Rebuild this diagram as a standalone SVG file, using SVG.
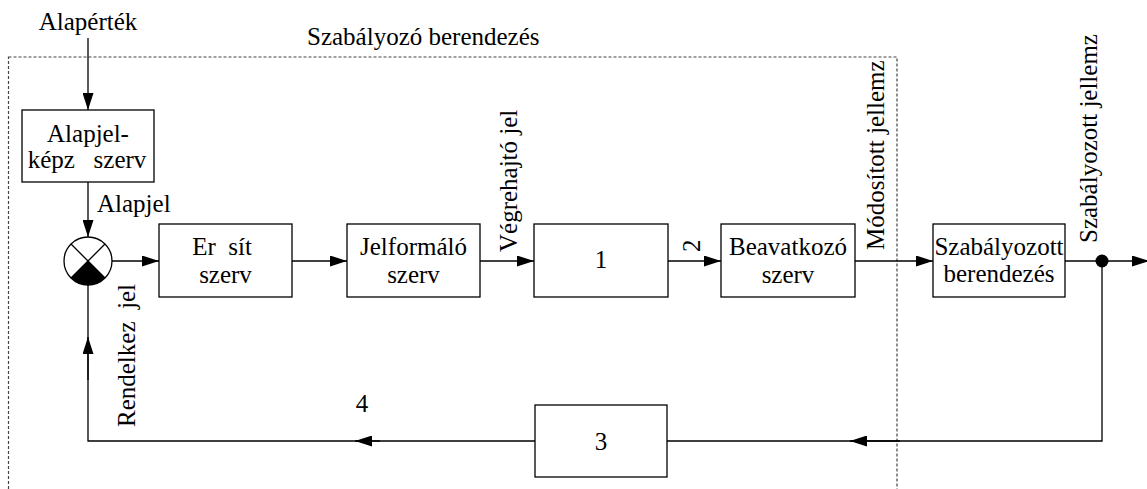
<svg xmlns="http://www.w3.org/2000/svg" width="1147" height="489" viewBox="0 0 1147 489" font-family="'Liberation Serif', 'Times New Roman', Times, 'DejaVu Serif', serif">
<style>
text{font-family:"Liberation Serif","Times New Roman",Times,"DejaVu Serif",serif;font-size:25px;fill:#000}
.box{fill:#fff;stroke:#000;stroke-width:1.3}
.ln{fill:none;stroke:#000;stroke-width:1.3}
.c{text-anchor:middle}
</style>
<defs>
<marker id="ah" viewBox="0 0 17 11" refX="17" refY="5.5" markerWidth="17" markerHeight="11" markerUnits="userSpaceOnUse" orient="auto">
<path d="M0,0 L17,5.5 L0,11 Z" fill="#000"/>
</marker>
</defs>
<rect x="8.5" y="57" width="888.5" height="450" fill="none" stroke="#444" stroke-width="1.2" stroke-dasharray="3 2"/>
<text x="307" y="45">Szabályozó berendezés</text>
<text x="88" y="30" class="c">Alapérték</text>

<g id="connectors">
<line class="ln" x1="88" y1="38" x2="88" y2="110" marker-end="url(#ah)"/>
<line class="ln" x1="88" y1="182" x2="88" y2="237" marker-end="url(#ah)"/>
<line class="ln" x1="112" y1="261" x2="159" y2="261" marker-end="url(#ah)"/>
<line class="ln" x1="292" y1="261" x2="347" y2="261" marker-end="url(#ah)"/>
<line class="ln" x1="480" y1="261" x2="534" y2="261" marker-end="url(#ah)"/>
<line class="ln" x1="668" y1="261" x2="721" y2="261" marker-end="url(#ah)"/>
<line class="ln" x1="855" y1="261" x2="933" y2="261" marker-end="url(#ah)"/>
<line class="ln" x1="1065" y1="261" x2="1149" y2="261" marker-end="url(#ah)"/>
<circle cx="1102" cy="261" r="6.5" fill="#000"/>
<polyline class="ln" points="1102,261 1102,441 667,441"/>
<line class="ln" x1="900" y1="441" x2="850" y2="441" marker-end="url(#ah)"/>
<polyline class="ln" points="535,441 88,441 88,285"/>
<line class="ln" x1="380" y1="441" x2="355" y2="441" marker-end="url(#ah)"/>
<line class="ln" x1="88" y1="380" x2="88" y2="337" marker-end="url(#ah)"/>
</g>

<g id="alapjelkepzo">
<rect class="box" x="22" y="110" width="132" height="72"/>
<text x="88" y="142" class="c">Alapjel-</text>
<text x="87" y="168" class="c" xml:space="preserve">képz   szerv</text>
</g>
<text x="97" y="212">Alapjel</text>

<g id="osszegzo">
<circle cx="88" cy="261" r="24" fill="#fff" stroke="#000" stroke-width="1.3"/>
<path d="M88,261 L71,278 A24,24 0 0 0 105,278 Z" fill="#000"/>
<line class="ln" x1="71" y1="244" x2="105" y2="278"/>
<line class="ln" x1="105" y1="244" x2="71" y2="278"/>
</g>

<g id="erosito">
<rect class="box" x="159" y="224" width="133" height="73"/>
<text x="222" y="255" class="c" xml:space="preserve">Er  sít</text>
<text x="225.5" y="283" class="c">szerv</text>
</g>

<g id="jelformalo">
<rect class="box" x="347" y="224" width="133" height="73"/>
<text x="413.5" y="255" class="c">Jelformáló</text>
<text x="413.5" y="283" class="c">szerv</text>
</g>

<g id="box1">
<rect class="box" x="534" y="224" width="134" height="73"/>
<text x="601" y="268" class="c">1</text>
</g>

<g id="beavatkozo">
<rect class="box" x="721" y="224" width="134" height="73"/>
<text x="788" y="255" class="c">Beavatkozó</text>
<text x="788" y="283" class="c">szerv</text>
</g>

<g id="szabalyozott">
<rect class="box" x="933" y="224" width="132" height="73"/>
<text x="999" y="255" class="c">Szabályozott</text>
<text x="999" y="282" class="c">berendezés</text>
</g>

<g id="box3">
<rect class="box" x="535" y="405" width="132" height="72"/>
<text x="601" y="450" class="c">3</text>
</g>

<text transform="translate(517,252) rotate(-90)">Végrehajtó jel</text>
<text transform="translate(700,252) rotate(-90)">2</text>
<text transform="translate(884,250) rotate(-90)">Módosított jellemz</text>
<text transform="translate(1097,243) rotate(-90)">Szabályozott jellemz</text>
<text transform="translate(135,427) rotate(-90)" xml:space="preserve">Rendelkez  jel</text>
<text x="362" y="412" class="c">4</text>
</svg>
